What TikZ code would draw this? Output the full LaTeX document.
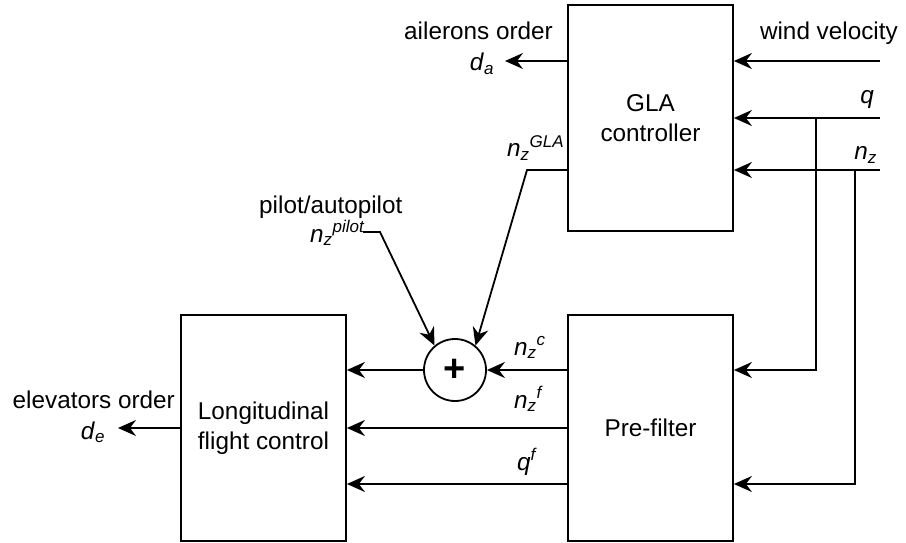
\documentclass[tikz,border=0pt]{standalone}
\usepackage{fontspec}
\setmainfont{Liberation Sans}
\usetikzlibrary{arrows.meta}
\newcommand\fsz{\fontsize{24.3}{30}\selectfont}
\newcommand\sub[1]{\textsubscript{\textit{#1}}}
\newcommand\sups[1]{\textsuperscript{\textit{#1}}}
\tikzset{
  ln/.style={line width=1.8pt},
  arr/.style={ln, -{Stealth[length=18pt,width=16pt,inset=6pt]}},
  blk/.style={draw, line width=1.8pt, align=center, inner sep=0pt, font=\fsz},
  lbl/.style={inner sep=0pt, font=\fsz},
}
\begin{document}
\begin{tikzpicture}[x=1pt,y=-1pt]
\useasboundingbox (0,0) rectangle (906,543);
% blocks
\node[blk, minimum width=165pt, minimum height=226pt] (gla) at (650.5,118) {GLA\\controller};
\node[blk, minimum width=165pt, minimum height=226pt] (pre) at (650.5,428) {Pre-filter};
\node[blk, minimum width=165pt, minimum height=226pt] (lon) at (263.5,428) {Longitudinal\\flight control};
\node[draw, ln, circle, minimum size=62pt, inner sep=0pt, font=\fontsize{38}{38}\selectfont\bfseries] (sum) at (455,370) {+};
% free ends
\coordinate (wv) at (880,61);
\coordinate (qin) at (880,118);
\coordinate (nzin) at (880,170);
\coordinate (qb) at (816,118);
\coordinate (nzb) at (855,170);
\coordinate (nfy) at (0,428);
\coordinate (qfy) at (0,484);
\coordinate (da) at (505,61);
\coordinate (de) at (118,428);
\coordinate (glak) at (527,170);
\coordinate (pil0) at (363,232);
\coordinate (pil1) at (380,232);
% inputs to GLA
\draw[arr] (wv) -- (wv -| gla.east);
\draw[arr] (qin) -- (qin -| gla.east);
\draw[arr] (nzin) -- (nzin -| gla.east);
% branches to pre-filter
\draw[arr] (qb) |- (pre.east |- sum);
\draw[arr] (nzb) |- (pre.east |- qfy);
% pre-filter outputs
\draw[arr] (pre.west |- sum) -- (sum.east);
\draw[arr] (pre.west |- nfy) -- (lon.east |- nfy);
\draw[arr] (pre.west |- qfy) -- (lon.east |- qfy);
\draw[arr] (sum.west) -- (sum.west -| lon.east);
% outputs
\draw[arr] (da -| gla.west) -- (da);
\draw[arr] (lon.west |- de) -- (de);
% GLA and pilot into sum
\draw[arr] (glak -| gla.west) -- (glak) -- (sum.50);
\draw[arr] (pil0) -- (pil1) -- (sum.130);
% labels
\node[lbl, anchor=base east] (lwv) at (898,40) {wind velocity};
\node[lbl, anchor=base east] (lq) at (874,104) {\textit{q}};
\node[lbl, anchor=base east] (lnz) at (877,160) {\textit{n}\sub{z}};
\node[lbl, anchor=base east] (lail) at (553,40) {ailerons order};
\node[lbl, anchor=base] (lda) at (482,71) {\textit{d}\sub{a}};
\node[lbl, anchor=base east] (lele) at (175,408) {elevators order};
\node[lbl, anchor=base] (lde) at (93,439) {\textit{d}\sub{e}};
\node[lbl, anchor=base west] (lgla) at (507,157) {\textit{n}\sub{z}\sups{GLA}};
\node[lbl, anchor=base west] (lpa) at (259,213) {pilot/autopilot};
\node[lbl, anchor=base west] (lpil) at (310,242) {\textit{n}\sub{z}\sups{pilot}};
\node[lbl, anchor=base west] (lnc) at (514,355) {\textit{n}\sub{z}\sups{c}};
\node[lbl, anchor=base west] (lnf) at (514,408) {\textit{n}\sub{z}\sups{f}};
\node[lbl, anchor=base west] (lqf) at (517,470) {\textit{q}\sups{f}};
\end{tikzpicture}
\end{document}
